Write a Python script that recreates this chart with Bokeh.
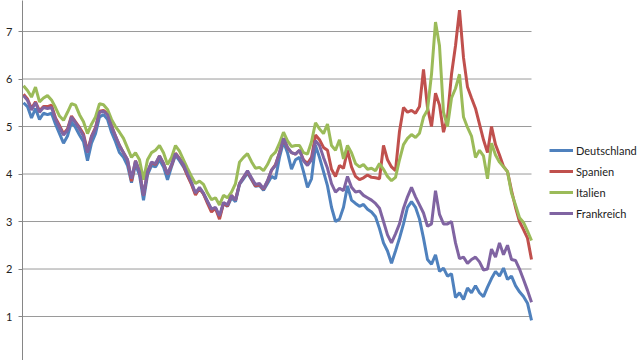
from bokeh.plotting import figure
from bokeh.models import Range1d, Legend, LegendItem, FixedTicker
from bokeh.embed import file_html
from bokeh.resources import INLINE

# Series values (10-year yields, %), sampled at equal time steps
deutschland = [5.5, 5.42, 5.18, 5.38, 5.15, 5.28, 5.25, 5.28, 5.05, 4.85, 4.65, 4.8, 5.1, 4.98, 4.82, 4.68,
               4.28, 4.65, 4.85, 5.2, 5.25, 5.15, 4.88, 4.68, 4.45, 4.35, 4.18, 3.82, 4.2, 3.98, 3.45, 3.98,
               4.18, 4.15, 4.3, 4.15, 3.88, 4.15, 4.4, 4.28, 4.15, 3.98, 3.8, 3.58, 3.7, 3.58, 3.42, 3.25,
               3.28, 3.1, 3.38, 3.32, 3.5, 3.42, 3.78, 3.9, 4.02, 3.88, 3.74, 3.76, 3.66, 3.8, 3.95, 3.9,
               4.35, 4.68, 4.45, 4.1, 4.3, 4.35, 4.05, 3.72, 3.9, 4.6, 4.35, 4.05, 3.75, 3.3, 3.0, 3.05,
               3.3, 3.75, 3.45, 3.38, 3.32, 3.36, 3.26, 3.2, 3.1, 2.85, 2.55, 2.38, 2.12, 2.38, 2.65, 2.95,
               3.3, 3.42, 3.3, 3.05, 2.65, 2.2, 2.1, 2.3, 1.95, 2.02, 1.85, 1.9, 1.4, 1.5, 1.36, 1.6,
               1.5, 1.65, 1.5, 1.42, 1.62, 1.8, 1.95, 1.85, 2.02, 1.78, 1.85, 1.65, 1.52, 1.42, 1.28, 0.92]

spanien = [5.68, 5.58, 5.38, 5.52, 5.33, 5.42, 5.42, 5.45, 5.18, 5.02, 4.85, 4.95, 5.22, 5.1, 4.98, 4.84,
           4.48, 4.8, 4.98, 5.32, 5.34, 5.27, 5.02, 4.8, 4.6, 4.45, 4.3, 3.85, 4.28, 4.06, 3.55, 4.04,
           4.24, 4.2, 4.38, 4.22, 4.0, 4.18, 4.44, 4.33, 4.18, 3.96, 3.78, 3.56, 3.7, 3.58, 3.38, 3.2,
           3.28, 3.05, 3.38, 3.33, 3.55, 3.45, 3.8, 3.93, 4.05, 3.9, 3.75, 3.78, 3.68, 3.85, 4.08, 4.2,
           4.45, 4.75, 4.55, 4.45, 4.42, 4.5, 4.3, 4.22, 4.35, 4.82, 4.72, 4.56, 4.5, 4.1, 3.95, 4.18,
           4.12, 4.5, 4.15, 3.95, 3.88, 3.92, 3.98, 3.93, 3.92, 3.9, 4.6, 4.3, 4.15, 4.07, 4.9, 5.4,
           5.3, 5.34, 5.28, 5.42, 6.2, 5.4, 5.0, 5.7, 5.45, 4.88, 5.2, 6.1, 6.7, 7.45, 6.45, 5.83,
           5.6, 5.38, 5.05, 4.72, 4.45, 5.0, 4.62, 4.4, 4.16, 4.05, 3.65, 3.3, 3.0, 2.83, 2.65, 2.2]

italien = [5.86, 5.76, 5.62, 5.83, 5.52, 5.6, 5.65, 5.56, 5.4, 5.22, 5.13, 5.3, 5.48, 5.45, 5.25, 5.1,
           4.85, 5.05, 5.2, 5.48, 5.46, 5.36, 5.15, 5.0, 4.88, 4.75, 4.55, 4.35, 4.45, 4.3, 3.88, 4.3,
           4.45, 4.5, 4.6, 4.45, 4.2, 4.35, 4.6, 4.48, 4.3, 4.12, 3.95, 3.8, 3.85, 3.78, 3.6, 3.46,
           3.5, 3.35, 3.55, 3.5, 3.62, 3.8, 4.25, 4.35, 4.43, 4.26, 4.12, 4.14, 4.07, 4.2, 4.38, 4.46,
           4.65, 4.88, 4.7, 4.58, 4.6, 4.6, 4.45, 4.42, 4.68, 5.08, 4.95, 4.85, 5.05, 4.6, 4.5, 4.72,
           4.32, 4.6, 4.45, 4.22, 4.15, 4.2, 4.1, 4.12, 4.07, 4.22, 4.1, 3.95, 3.86, 3.93, 4.3, 4.62,
           4.75, 4.83, 4.77, 4.86, 5.2, 5.35, 6.1, 7.2, 6.7, 5.3, 5.0, 5.6, 5.8, 6.1, 5.2, 4.98,
           4.8, 4.35, 4.5, 4.38, 3.9, 4.65, 4.4, 4.25, 4.15, 4.05, 3.6, 3.35, 3.08, 2.98, 2.8, 2.6]

frankreich = [5.65, 5.55, 5.35, 5.5, 5.3, 5.4, 5.38, 5.4, 5.15, 4.98, 4.82, 4.92, 5.2, 5.08, 4.95, 4.8,
              4.45, 4.78, 4.95, 5.3, 5.32, 5.25, 5.0, 4.8, 4.6, 4.45, 4.3, 3.9, 4.28, 4.05, 3.55, 4.05,
              4.25, 4.22, 4.38, 4.22, 4.0, 4.2, 4.43, 4.32, 4.2, 4.0, 3.82, 3.6, 3.72, 3.6, 3.42, 3.26,
              3.3, 3.12, 3.4, 3.35, 3.55, 3.45, 3.8, 3.93, 4.07, 3.92, 3.78, 3.8, 3.69, 3.86, 4.08, 4.18,
              4.45, 4.75, 4.56, 4.45, 4.42, 4.5, 4.28, 4.18, 4.3, 4.7, 4.6, 4.35, 4.12, 3.8, 3.62, 3.7,
              3.65, 3.95, 3.72, 3.62, 3.64, 3.55, 3.5, 3.45, 3.38, 3.28, 3.0, 2.72, 2.55, 2.74, 2.95, 3.28,
              3.52, 3.72, 3.52, 3.35, 3.18, 2.9, 2.95, 3.65, 3.15, 2.95, 2.95, 3.0, 2.55, 2.22, 2.25, 2.12,
              2.2, 2.25, 2.15, 1.98, 2.0, 2.42, 2.25, 2.55, 2.3, 2.5, 2.2, 2.18, 2.0, 1.78, 1.55, 1.3]

names = ["Deutschland", "Spanien", "Italien", "Frankreich"]
colors = ["#4F81BD", "#C0504D", "#9BBB59", "#8064A2"]
y_ticks = [1, 2, 3, 4, 5, 6, 7]

series = [deutschland, spanien, italien, frankreich]
n = len(frankreich)
xs = list(range(n))

# frame spans the whole width right of the axis; 4 px per sample step
p = figure(width=640, height=360, output_backend="svg", toolbar_location=None,
           x_range=Range1d(-0.25, -0.25 + 618 / 4), y_range=Range1d(0.074, 7.653),
           min_border_left=22, min_border_right=0, min_border_top=0, min_border_bottom=0)
p.outline_line_color = None
p.xaxis.visible = False
p.xgrid.visible = False
p.ygrid.visible = False

p.yaxis.ticker = FixedTicker(ticks=y_ticks)
p.yaxis.axis_line_color = "#868686"
p.yaxis.major_tick_line_color = "#868686"
p.yaxis.major_tick_out = 4
p.yaxis.major_tick_in = 0
p.yaxis.minor_tick_line_color = None
p.yaxis.major_label_standoff = 6
p.yaxis.major_label_text_font = "Lato"
p.yaxis.major_label_text_font_size = "11px"
p.yaxis.major_label_text_color = "#222222"

# horizontal gridlines spanning only the data area
p.segment(x0=[xs[0] - 0.25] * len(y_ticks), x1=[xs[-1]] * len(y_ticks), y0=y_ticks, y1=y_ticks,
          line_color="#9a9a9a", line_width=1)

items = []
for name, color, ys in zip(names, colors, series):
    r = p.line(xs, ys, line_color=color, line_width=3)
    items.append(LegendItem(label=name, renderers=[r]))

legend = Legend(items=items, location=(527, 139), orientation="vertical",
                border_line_color=None, background_fill_alpha=0,
                padding=0, margin=0, spacing=5, glyph_width=24, glyph_height=16,
                label_height=16, label_standoff=3,
                label_text_font="Lato", label_text_font_size="11px",
                label_text_color="#222222")
p.add_layout(legend, "center")

open("out.html", "w").write(file_html(p, INLINE))
